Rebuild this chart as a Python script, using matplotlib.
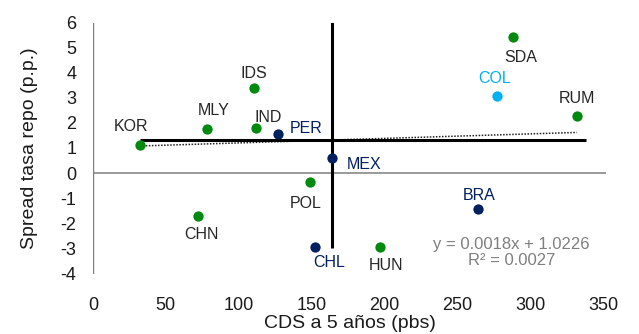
import numpy as np
import matplotlib
matplotlib.use('Agg')
import matplotlib.pyplot as plt

plt.rcParams['font.family'] = ['Liberation Sans', 'DejaVu Sans']
plt.rcParams['axes.unicode_minus'] = False

# data
countries = ['KOR', 'MLY', 'IDS', 'IND', 'PER', 'MEX', 'SDA', 'COL',
             'RUM', 'POL', 'CHN', 'CHL', 'HUN', 'BRA']
cds = [32, 78, 110.5, 112, 127, 164, 288, 277, 332, 149, 72, 152, 197, 264]
spread = [1.12, 1.75, 3.39, 1.79, 1.55, 0.6, 5.42, 3.07, 2.27, -0.36,
          -1.71, -2.95, -2.95, -1.43]
group = ['em', 'em', 'em', 'em', 'latam', 'latam', 'em', 'col',
         'em', 'em', 'em', 'latam', 'em', 'latam']

# trend line as printed on the chart
slope = 0.0018
intercept = 1.0226
r2 = 0.0027

# reference lines (median-style cross)
h_line_y = 1.32
h_line_x = [32, 338]
v_line_x = 164
v_line_y = [-3.0, 6.0]

x_ticks = [0, 50, 100, 150, 200, 250, 300, 350]
y_ticks = [-4, -3, -2, -1, 0, 1, 2, 3, 4, 5, 6]

dot_colors = {'em': '#008a0e', 'latam': '#002060', 'col': '#00b0f0'}
text_colors = {'em': '#262626', 'latam': '#002060', 'col': '#00b0f0'}

# label offsets in pixels (dx, dy)
label_offsets = {
    'KOR': (-9, 18), 'MLY': (7, 19), 'IDS': (0, 15), 'IND': (12, 11),
    'PER': (28, 6), 'MEX': (32, -6), 'SDA': (8, -20), 'COL': (-2, 18),
    'RUM': (0, 18), 'POL': (-4, -21), 'CHN': (4, -18), 'CHL': (15, -15),
    'HUN': (6, -18), 'BRA': (1, 13),
}

fig = plt.figure(figsize=(6.39, 3.34), dpi=100)
ax = fig.add_axes([93 / 639, (334 - 273.5) / 334, 513 / 639, 251 / 334])
ax.set_xlim(0, 352)
ax.set_ylim(-4, 6)

for s in ax.spines.values():
    s.set_visible(False)

# axes lines crossing at zero
ax.plot([0, 0], [-4, 6], color='#7f7f7f', lw=1.0, zorder=1)
ax.axhline(0, color='#7f7f7f', lw=1.1, zorder=1)

# trend line
tx = np.array([min(cds), max(cds)])
ax.plot(tx, slope * tx + intercept, ls=(0, (1, 1)), color='#222222', lw=1.1, zorder=2)

# thick cross
ax.plot(h_line_x, [h_line_y, h_line_y], color='black', lw=2.2, zorder=3,
        solid_capstyle='butt')
ax.plot([v_line_x, v_line_x], v_line_y, color='black', lw=2.2, zorder=3,
        solid_capstyle='butt')

for name, x, y, g in zip(countries, cds, spread, group):
    ax.scatter(x, y, s=55, color=dot_colors[g], zorder=5, linewidths=0)
    dx, dy = label_offsets[name]
    ax.annotate(name, (x, y), xytext=(dx, dy), textcoords='offset pixels',
                ha='center', va='center', fontsize=11.5, color=text_colors[g])

ax.text(287, -3.15, f'y = {slope:.4f}x + {intercept:.4f}\nR² = {r2:.4f}',
        ha='center', va='center', fontsize=12, color='#7f7f7f',
        linespacing=1.1)

ax.set_xticks(x_ticks)
ax.set_yticks(y_ticks)
ax.tick_params(length=0, labelsize=13, colors='#1a1a1a')
ax.tick_params(axis='x', pad=17)
ax.tick_params(axis='y', pad=12)

ax.set_xlabel('CDS a 5 años (pbs)', fontsize=14, color='#1a1a1a', labelpad=1)
ax.set_ylabel('Spread tasa repo (p.p.)', fontsize=14, color='#1a1a1a', labelpad=16)

fig.savefig('out.png', dpi=100)
